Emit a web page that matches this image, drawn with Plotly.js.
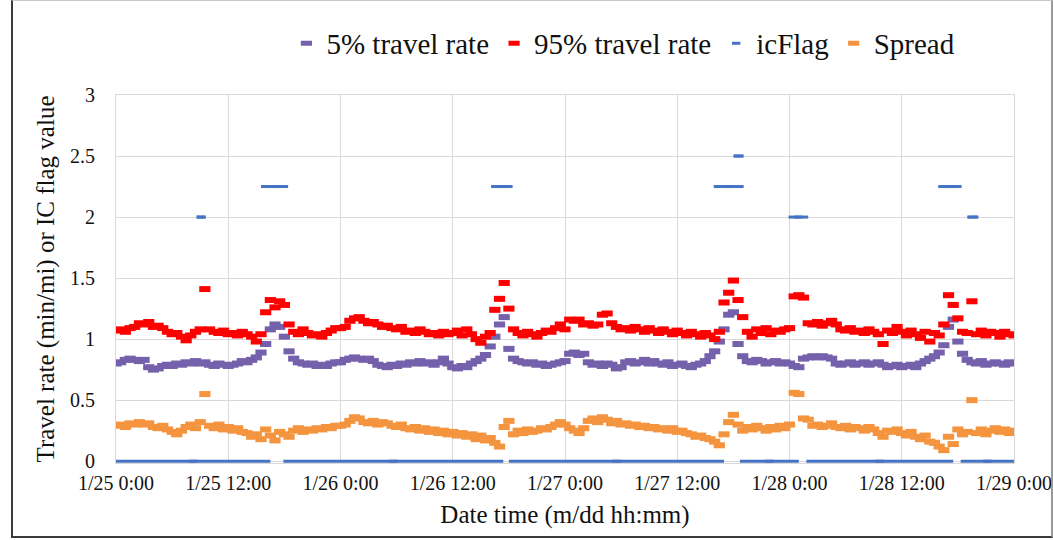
<!DOCTYPE html>
<html>
<head>
<meta charset="utf-8">
<script src="https://cdn.plot.ly/plotly-3.0.1.min.js"></script>
<style>
  html, body { margin: 0; padding: 0; background: #fff; }
  #wrap { position: relative; width: 1053px; height: 540px; }
  #chart { position: absolute; left: 0; top: 0; width: 1053px; height: 540px; }
  #frame { position: absolute; left: 11px; top: 0px; width: 1038px; height: 535px;
           border-left: 2px solid #3a3a3a; border-bottom: 2px solid #3a3a3a;
           border-right: 2px solid #9a9a9a; border-top: 1px solid #c8c8c8; pointer-events: none; }
</style>
</head>
<body>
<div id="wrap"><div id="chart"></div><div id="frame"></div></div>
<script>
// Sampling: one reading every 30 minutes, starting 1/25 0:00 (x in hours)
const STEP_H = 0.5;

const seriesNames = ['5% travel rate', '95% travel rate', 'icFlag', 'Spread'];

// 5% travel rate (min/mi)
const p5 = [
  0.80,0.81,0.83,0.84,0.83,0.82,0.83,0.77,0.75,0.76,0.78,0.79,0.78,0.80,0.79,0.81,0.80,0.82,0.80,0.81,
  0.79,0.78,0.80,0.79,0.78,0.79,0.80,0.82,0.81,0.83,0.85,0.89,0.96,1.08,1.12,1.10,1.02,0.90,0.84,0.81,
  0.80,0.79,0.80,0.78,0.79,0.78,0.80,0.81,
  0.81,0.83,0.84,0.85,0.84,0.83,0.84,0.82,0.79,0.78,0.77,0.79,0.78,0.80,0.79,0.81,0.80,0.82,0.80,0.81,
  0.79,0.81,0.84,0.80,0.77,0.76,0.78,0.77,0.80,0.82,0.84,0.87,0.94,1.02,1.12,1.18,0.92,0.84,0.82,0.81,
  0.80,0.81,0.79,0.80,0.78,0.79,0.80,0.81,
  0.82,0.88,0.89,0.87,0.88,0.81,0.79,0.80,0.78,0.80,0.79,0.76,0.77,0.81,0.82,0.80,0.81,0.83,0.80,0.82,
  0.80,0.79,0.81,0.78,0.79,0.80,0.78,0.77,0.79,0.80,0.82,0.86,0.90,0.98,1.08,1.20,1.22,0.96,0.86,0.82,
  0.81,0.83,0.82,0.80,0.81,0.82,0.80,0.81,
  0.80,0.78,0.77,0.84,0.85,0.86,0.85,0.86,0.85,0.84,0.80,0.79,0.80,0.81,0.79,0.80,0.81,0.79,0.80,0.81,
  0.79,0.77,0.78,0.79,0.77,0.78,0.79,0.77,0.80,0.82,0.84,0.86,0.89,0.95,1.10,1.16,0.98,0.88,0.83,0.81,
  0.80,0.82,0.79,0.80,0.81,0.80,0.79,0.81,0.80
];

// 95% travel rate (min/mi)
const p95 = [
  1.07,1.08,1.06,1.09,1.10,1.13,1.12,1.14,1.10,1.11,1.09,1.06,1.04,1.05,1.02,0.99,1.03,1.06,1.08,1.41,
  1.08,1.06,1.05,1.07,1.04,1.05,1.03,1.06,1.04,1.02,0.98,1.04,1.22,1.32,1.26,1.31,1.28,1.12,1.06,1.04,
  1.08,1.05,1.03,1.04,1.02,1.05,1.07,1.09,
  1.09,1.10,1.15,1.17,1.18,1.15,1.13,1.14,1.12,1.10,1.11,1.09,1.08,1.10,1.06,1.07,1.05,1.08,1.06,1.04,
  1.05,1.03,1.06,1.04,1.05,1.07,1.03,1.08,1.04,1.00,0.97,1.02,1.05,1.24,1.33,1.46,1.25,1.08,1.05,1.03,
  1.06,1.04,1.02,1.05,1.07,1.06,1.09,1.12,
  1.08,1.16,1.15,1.16,1.12,1.13,1.11,1.12,1.20,1.21,1.13,1.10,1.08,1.09,1.07,1.10,1.08,1.06,1.09,1.07,
  1.05,1.08,1.06,1.04,1.07,1.05,1.03,1.06,1.04,1.02,1.05,1.03,1.00,1.06,1.30,1.38,1.48,1.32,1.18,1.06,
  1.02,1.08,1.05,1.09,1.04,1.07,1.06,1.08,
  1.09,1.35,1.36,1.34,1.13,1.12,1.14,1.11,1.13,1.15,1.12,1.08,1.07,1.09,1.06,1.07,1.05,1.08,1.06,1.04,
  0.96,1.07,1.05,1.10,1.06,1.03,1.07,1.04,1.01,1.06,0.98,1.05,1.03,1.12,1.36,1.28,1.17,1.06,1.05,1.31,
  1.04,1.07,1.03,1.06,1.05,1.02,1.06,1.04,1.03
];

// Spread (min/mi)
const spread = [
  0.29,0.30,0.28,0.31,0.30,0.32,0.30,0.31,0.28,0.27,0.29,0.26,0.24,0.22,0.25,0.28,0.30,0.27,0.32,0.55,
  0.29,0.27,0.30,0.26,0.28,0.25,0.27,0.24,0.23,0.20,0.22,0.18,0.26,0.21,0.17,0.24,0.22,0.20,0.25,0.27,
  0.24,0.26,0.25,0.27,0.26,0.28,0.27,0.29,
  0.29,0.30,0.33,0.36,0.35,0.32,0.31,0.33,0.30,0.32,0.31,0.29,0.28,0.30,0.27,0.26,0.28,0.25,0.27,0.24,
  0.26,0.23,0.25,0.22,0.24,0.21,0.23,0.20,0.22,0.18,0.21,0.17,0.19,0.15,0.12,0.28,0.33,0.22,0.25,0.23,
  0.26,0.24,0.25,0.27,0.26,0.28,0.30,0.32,
  0.30,0.27,0.25,0.23,0.27,0.33,0.35,0.32,0.36,0.34,0.31,0.33,0.30,0.31,0.29,0.30,0.28,0.29,0.27,0.28,
  0.26,0.27,0.25,0.27,0.24,0.25,0.23,0.22,0.20,0.21,0.19,0.18,0.16,0.13,0.22,0.32,0.38,0.30,0.25,0.28,
  0.26,0.29,0.27,0.25,0.28,0.26,0.29,0.27,
  0.30,0.56,0.55,0.35,0.34,0.29,0.30,0.28,0.29,0.31,0.28,0.27,0.29,0.26,0.28,0.27,0.25,0.28,0.26,0.23,
  0.20,0.25,0.24,0.26,0.23,0.21,0.24,0.20,0.18,0.21,0.16,0.15,0.12,0.09,0.20,0.14,0.26,0.22,0.24,0.50,
  0.23,0.26,0.22,0.25,0.27,0.24,0.26,0.23,0.25
];

// icFlag: constant-value runs (start hour, end hour, flag value)
const icStart = [0, 17.9, 42.0, 66.7, 73.8, 90.3, 15.5, 40.1, 63.9, 87.9, 8.6, 71.9, 91.0, 66.0];
const icEnd   = [16.5, 41.4, 65.0, 73.0, 89.5, 96.0, 18.4, 42.4, 67.1, 90.4, 9.6, 74.0, 92.2, 67.1];
const icLevel = [0, 0, 0, 0, 0, 0, 2.25, 2.25, 2.25, 2.25, 2, 2, 2, 2.5];

// Axis ticks
const xTickHours = [0, 12, 24, 36, 48, 60, 72, 84, 96];
const xTickLabels = ['1/25 0:00','1/25 12:00','1/26 0:00','1/26 12:00','1/27 0:00','1/27 12:00','1/28 0:00','1/28 12:00','1/29 0:00'];
const yTickVals = [0, 0.5, 1, 1.5, 2, 2.5, 3];
const yTickLabels = ['0','0.5','1','1.5','2','2.5','3'];

const colors = { p5: '#7561ab', p95: '#ff0000', ic: '#4472c4', spread: '#f5943f' };
const FONT = 'Liberation Serif, Times New Roman, serif';

const hours = arr => arr.map((_, i) => i * STEP_H);

function dashTrace(name, vals, color) {
  return {
    type: 'scatter', mode: 'markers', name: name,
    x: hours(vals), y: vals,
    marker: { symbol: 'line-ew', size: 8, color: color, line: { color: color, width: 6 } },
    hoverinfo: 'x+y'
  };
}

const icCenter = icStart.map((s, i) => (s + icEnd[i]) / 2);
const icHalf = icStart.map((s, i) => (icEnd[i] - s) / 2);

const traces = [
  dashTrace(seriesNames[0], p5, colors.p5),
  dashTrace(seriesNames[1], p95, colors.p95),
  {
    type: 'scatter', mode: 'markers', name: seriesNames[2],
    x: icCenter, y: icLevel, cliponaxis: false,
    marker: { symbol: 'line-ew', size: 6, color: colors.ic, line: { color: colors.ic, width: 3 } },
    error_x: { type: 'data', symmetric: true, array: icHalf, visible: true, width: 0, thickness: 3, color: colors.ic }
  },
  dashTrace(seriesNames[3], spread, colors.spread)
];

const layout = {
  width: 1053, height: 540,
  paper_bgcolor: '#ffffff', plot_bgcolor: '#ffffff',
  margin: { l: 116, r: 39, t: 95, b: 77 },
  font: { family: FONT, color: '#111' },
  showlegend: true,
  legend: {
    orientation: 'h', xref: 'container', yref: 'container',
    x: 0.272, xanchor: 'left', y: 0.967, yanchor: 'top',
    font: { family: FONT, size: 29, color: '#111' },
    bgcolor: 'rgba(0,0,0,0)'
  },
  xaxis: {
    range: [0, 96], tickmode: 'array', tickvals: xTickHours, ticktext: xTickLabels,
    showgrid: true, gridcolor: '#d9d9d9', gridwidth: 1,
    showline: true, linecolor: '#d9d9d9', mirror: true, zeroline: false,
    ticks: '', tickfont: { family: FONT, size: 20, color: '#111' }, ticklabelstandoff: 2,
    title: { text: 'Date time (m/dd hh:mm)', font: { family: FONT, size: 25, color: '#111' }, standoff: 12 }
  },
  yaxis: {
    range: [-0.015, 3], tickmode: 'array', tickvals: yTickVals, ticktext: yTickLabels,
    showgrid: true, gridcolor: '#d9d9d9', gridwidth: 1,
    showline: true, linecolor: '#d9d9d9', mirror: true, zeroline: false,
    ticks: '', tickfont: { family: FONT, size: 20, color: '#111' }, ticklabelstandoff: 16,
    title: { text: 'Travel rate (min/mi) or IC flag value', font: { family: FONT, size: 25, color: '#111' }, standoff: 8 }
  }
};

Plotly.newPlot('chart', traces, layout, { displayModeBar: false, staticPlot: true });
</script>
</body>
</html>
